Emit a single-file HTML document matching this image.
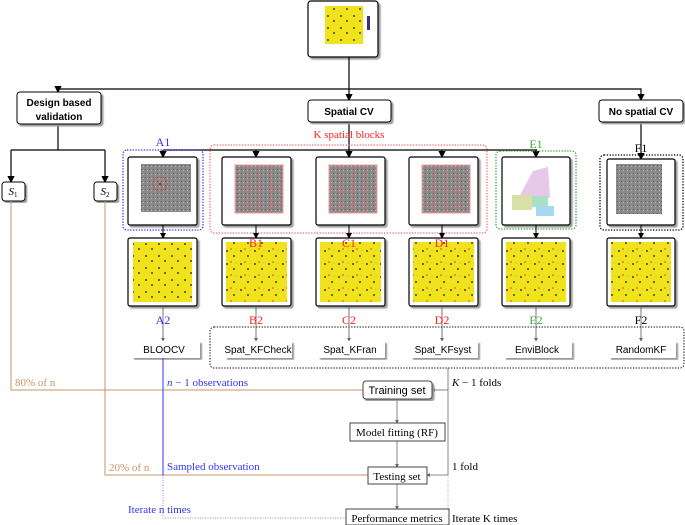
<!DOCTYPE html>
<html><head><meta charset="utf-8"><style>
html,body{margin:0;padding:0;background:#fff}
svg{display:block}
text{font-family:"Liberation Serif",serif}
.s{font-family:"Liberation Sans",sans-serif}
</style></head><body>
<svg width="685" height="525" viewBox="0 0 685 525" xmlns="http://www.w3.org/2000/svg">
<defs>
<marker id="ar" markerWidth="6" markerHeight="6" refX="5" refY="3" orient="auto"><path d="M0,0 L6,3 L0,6 z" fill="#000"/></marker>
<marker id="ag" markerWidth="5" markerHeight="5" refX="4" refY="2.5" orient="auto"><path d="M0,0 L5,2.5 L0,5 z" fill="#666"/></marker>
<pattern id="dots" width="14" height="13" patternUnits="userSpaceOnUse">
<rect width="14" height="13" fill="#f1e31b"/>
<circle cx="3" cy="4" r="0.9" fill="#111"/><circle cx="10" cy="9" r="0.9" fill="#111"/>
<circle cx="7" cy="2" r="0.8" fill="#e33"/><circle cx="12" cy="3" r="0.6" fill="#8c8"/>
</pattern>
<pattern id="dotsA" width="13" height="12" patternUnits="userSpaceOnUse">
<rect width="13" height="12" fill="#f1e31b"/>
<circle cx="3" cy="4" r="0.9" fill="#111"/><circle cx="9" cy="9" r="0.9" fill="#111"/>
</pattern>
<pattern id="gray" width="4" height="4" patternUnits="userSpaceOnUse">
<rect width="4" height="4" fill="#8a8a8a"/><rect x="1" y="1" width="1" height="1" fill="#555"/><rect x="3" y="2" width="1" height="1" fill="#bbb"/>
</pattern>
<filter id="sh"><feDropShadow dx="2" dy="2" stdDeviation="0.8" flood-color="#999"/></filter>
</defs>

<!-- top image -->
<rect x="308" y="1" width="70" height="56" rx="3" fill="#fff" stroke="#000" stroke-width="1.2" filter="url(#sh)"/>
<rect x="325" y="6" width="38" height="38" fill="url(#dotsA)"/>
<rect x="367" y="16" width="3" height="14" fill="#3b2f7a"/>

<!-- top tree -->
<g stroke="#000" stroke-width="1.2" fill="none">
<line x1="349" y1="57" x2="349" y2="100" marker-end="url(#ar)"/>
<polyline points="58,89 641,89 641,100" marker-end="url(#ar)"/>
<line x1="58" y1="89" x2="58" y2="92" marker-end="url(#ar)"/>
<line x1="58" y1="124" x2="58" y2="150"/>
<line x1="11" y1="150" x2="105" y2="150"/>
<line x1="11" y1="150" x2="11" y2="182" marker-end="url(#ar)"/>
<line x1="105" y1="150" x2="105" y2="182" marker-end="url(#ar)"/>
<line x1="349" y1="122" x2="349" y2="157" marker-end="url(#ar)"/>
<line x1="163" y1="150" x2="537" y2="150"/>
<line x1="163" y1="150" x2="163" y2="157" marker-end="url(#ar)"/>
<line x1="256" y1="150" x2="256" y2="157" marker-end="url(#ar)"/>
<line x1="442" y1="150" x2="442" y2="157" marker-end="url(#ar)"/>
<line x1="536" y1="150" x2="536" y2="157" marker-end="url(#ar)"/>
<line x1="641" y1="122" x2="641" y2="159" marker-end="url(#ar)"/>
</g>

<rect x="17" y="92" width="84" height="32" rx="3" fill="#fff" stroke="#000" filter="url(#sh)"/>
<text class="s" x="59" y="106" font-size="10" font-weight="bold" text-anchor="middle">Design based</text>
<text class="s" x="59" y="120" font-size="10" font-weight="bold" text-anchor="middle">validation</text>
<rect x="308" y="100" width="83" height="22" rx="3" fill="#fff" stroke="#000" filter="url(#sh)"/>
<text class="s" x="349" y="115" font-size="10" font-weight="bold" text-anchor="middle">Spatial CV</text>
<rect x="599" y="100" width="84" height="22" rx="3" fill="#fff" stroke="#000" filter="url(#sh)"/>
<text class="s" x="641" y="115" font-size="10" font-weight="bold" text-anchor="middle">No spatial CV</text>

<rect x="2" y="182" width="23" height="19" rx="3" fill="#fff" stroke="#000" filter="url(#sh)"/>
<text x="13" y="195" font-size="11" font-style="italic" text-anchor="middle">S<tspan font-size="7" dy="2" font-style="normal">1</tspan></text>
<rect x="94" y="182" width="23" height="19" rx="3" fill="#fff" stroke="#000" filter="url(#sh)"/>
<text x="105" y="195" font-size="11" font-style="italic" text-anchor="middle">S<tspan font-size="7" dy="2" font-style="normal">2</tspan></text>

<!-- dotted groups -->
<rect x="123" y="150" width="80" height="80" rx="4" fill="none" stroke="#33f" stroke-width="1.3" stroke-dasharray="1.3,1.5"/>
<rect x="210" y="145" width="277" height="88" rx="4" fill="none" stroke="#f44" stroke-width="1" stroke-dasharray="1.3,1.5"/>
<rect x="496" y="151" width="80" height="78" rx="4" fill="none" stroke="#3a3" stroke-width="1.3" stroke-dasharray="1.3,1.5"/>
<rect x="600" y="155" width="83" height="75" rx="4" fill="none" stroke="#000" stroke-width="1.3" stroke-dasharray="1.3,1.5"/>
<rect x="210" y="327" width="474" height="41" rx="4" fill="none" stroke="#000" stroke-width="1" stroke-dasharray="1.3,1.5"/>

<text x="163" y="146" font-size="12" fill="#33f" text-anchor="middle">A1</text>
<text x="349" y="138" font-size="11" fill="#f22" text-anchor="middle">K spatial blocks</text>
<text x="536" y="148" font-size="12" fill="#4a4" text-anchor="middle">E1</text>
<text x="641" y="152" font-size="12" text-anchor="middle">F1</text>

<!-- row1 images -->
<g>
<rect x="128" y="157" width="69" height="68" rx="2" fill="#fff" stroke="#000" stroke-width="1.2" filter="url(#sh)"/>
<rect x="141" y="164" width="50" height="48" fill="url(#gray)"/>
<circle cx="160" cy="184" r="7" fill="none" stroke="#c44" stroke-width="0.6"/><circle cx="160" cy="184" r="1.2" fill="#f00"/>
<rect x="222" y="157" width="69" height="68" rx="2" fill="#fff" stroke="#000" stroke-width="1.2" filter="url(#sh)"/>
<rect x="235" y="165" width="48" height="48" fill="url(#gray)" stroke="#f99"/>
<rect x="316" y="157" width="69" height="68" rx="2" fill="#fff" stroke="#000" stroke-width="1.2" filter="url(#sh)"/>
<rect x="329" y="165" width="48" height="48" fill="url(#gray)" stroke="#f99"/>
<rect x="409" y="157" width="69" height="68" rx="2" fill="#fff" stroke="#000" stroke-width="1.2" filter="url(#sh)"/>
<rect x="422" y="165" width="48" height="48" fill="url(#gray)" stroke="#f99"/>
<g stroke="#e66" stroke-width="0.6">
<path d="M235,189H283M235,205H283M247,165V213M259,165V213M271,165V213"/>
<path d="M329,189H377M329,205H377M341,165V213M353,165V213M365,165V213"/>
<path d="M422,189H470M422,205H470M434,165V213M446,165V213M458,165V213"/>
</g>
<rect x="502" y="157" width="68" height="68" rx="2" fill="#fff" stroke="#000" stroke-width="1.2" filter="url(#sh)"/>
<path d="M533,171 L548,167 L550,198 L520,195 Z" fill="#e8c8e8"/>
<rect x="512" y="195" width="20" height="15" fill="#d8e0a8"/><rect x="532" y="196" width="16" height="11" fill="#a8e0c8"/><rect x="536" y="206" width="18" height="10" fill="#a8d8f0"/>
<rect x="607" y="159" width="68" height="66" rx="2" fill="#fff" stroke="#000" stroke-width="1.2" filter="url(#sh)"/>
<rect x="616" y="164" width="46" height="50" fill="url(#gray)"/>
</g>
<g stroke="#000" stroke-width="1">
<line x1="163" y1="225" x2="163" y2="238" marker-end="url(#ar)"/>
<line x1="256" y1="225" x2="256" y2="238" marker-end="url(#ar)"/>
<line x1="349" y1="225" x2="349" y2="238" marker-end="url(#ar)"/>
<line x1="442" y1="225" x2="442" y2="238" marker-end="url(#ar)"/>
<line x1="536" y1="225" x2="536" y2="238" marker-end="url(#ar)"/>
<line x1="641" y1="225" x2="641" y2="238" marker-end="url(#ar)"/>
</g>
<!-- row2 images -->
<g>
<rect x="128" y="238" width="69" height="68" rx="2" fill="#fff" stroke="#000" stroke-width="1.2" filter="url(#sh)"/>
<rect x="133" y="242" width="59" height="60" fill="url(#dotsA)"/>
<rect x="222" y="238" width="69" height="68" rx="2" fill="#fff" stroke="#000" stroke-width="1.2" filter="url(#sh)"/>
<rect x="226" y="242" width="61" height="60" fill="url(#dots)"/>
<rect x="316" y="238" width="69" height="68" rx="2" fill="#fff" stroke="#000" stroke-width="1.2" filter="url(#sh)"/>
<rect x="320" y="242" width="61" height="60" fill="url(#dots)"/>
<rect x="409" y="238" width="69" height="68" rx="2" fill="#fff" stroke="#000" stroke-width="1.2" filter="url(#sh)"/>
<rect x="413" y="242" width="61" height="60" fill="url(#dots)"/>
<rect x="502" y="238" width="68" height="68" rx="2" fill="#fff" stroke="#000" stroke-width="1.2" filter="url(#sh)"/>
<rect x="506" y="242" width="60" height="60" fill="url(#dots)"/>
<rect x="607" y="238" width="68" height="68" rx="2" fill="#fff" stroke="#000" stroke-width="1.2" filter="url(#sh)"/>
<rect x="611" y="242" width="60" height="60" fill="url(#dots)"/>
</g>
<text x="256" y="247" font-size="12" fill="#f22" text-anchor="middle">B1</text>
<text x="349" y="247" font-size="12" fill="#f22" text-anchor="middle">C1</text>
<text x="442" y="247" font-size="12" fill="#f22" text-anchor="middle">D1</text>

<g stroke="#555" stroke-width="0.8">
<line x1="163" y1="306" x2="163" y2="341" marker-end="url(#ag)"/>
<line x1="256" y1="306" x2="256" y2="341" marker-end="url(#ag)"/>
<line x1="349" y1="306" x2="349" y2="341" marker-end="url(#ag)"/>
<line x1="442" y1="306" x2="442" y2="341" marker-end="url(#ag)"/>
<line x1="536" y1="306" x2="536" y2="341" marker-end="url(#ag)"/>
<line x1="641" y1="306" x2="641" y2="341" marker-end="url(#ag)"/>
</g>
<g font-size="12" text-anchor="middle">
<text x="163" y="324" fill="#33f">A2</text>
<text x="256" y="324" fill="#f22">B2</text>
<text x="349" y="324" fill="#f22">C2</text>
<text x="442" y="324" fill="#f22">D2</text>
<text x="536" y="324" fill="#4a4">E2</text>
<text x="641" y="324" fill="#000">F2</text>
</g>
<g class="s" font-size="10" text-anchor="middle">
<rect x="132" y="341" width="68" height="17" fill="#fff" filter="url(#sh)"/><text x="164" y="353" class="s">BLOOCV</text>
<rect x="225" y="341" width="67" height="17" fill="#fff" filter="url(#sh)"/><text x="258" y="353" class="s">Spat_KFCheck</text>
<rect x="318" y="341" width="67" height="17" fill="#fff" filter="url(#sh)"/><text x="350" y="353" class="s">Spat_KFran</text>
<rect x="411" y="341" width="67" height="17" fill="#fff" filter="url(#sh)"/><text x="443" y="353" class="s">Spat_KFsyst</text>
<rect x="504" y="341" width="68" height="17" fill="#fff" filter="url(#sh)"/><text x="537" y="353" class="s">EnviBlock</text>
<rect x="609" y="341" width="67" height="17" fill="#fff" filter="url(#sh)"/><text x="641" y="353" class="s">RandomKF</text>
</g>

<!-- bottom flow -->
<g fill="none">
<polyline points="11,201 11,390 363,390" stroke="#c8936a" stroke-width="1"/>
<polyline points="105,201 105,475 368,475" stroke="#c8936a" stroke-width="1"/>
<line x1="163" y1="358" x2="163" y2="475" stroke="#33f" stroke-width="1"/>
<polyline points="163,475 163,518 346,518" stroke="#66f" stroke-width="0.8" stroke-dasharray="1,1.5"/>
<polyline points="448,368 448,475" stroke="#666" stroke-width="0.8"/>
<line x1="448" y1="390" x2="432" y2="390" stroke="#666" stroke-width="0.8" marker-end="url(#ag)"/>
<line x1="448" y1="475" x2="427" y2="475" stroke="#666" stroke-width="0.8" marker-end="url(#ag)"/>
<line x1="448" y1="475" x2="448" y2="509" stroke="#999" stroke-width="0.8" stroke-dasharray="1,1.5"/>
<line x1="397" y1="398" x2="397" y2="423" stroke="#666" stroke-width="0.8" marker-end="url(#ag)"/>
<line x1="397" y1="441" x2="397" y2="467" stroke="#666" stroke-width="0.8" marker-end="url(#ag)"/>
<line x1="397" y1="484" x2="397" y2="509" stroke="#666" stroke-width="0.8" marker-end="url(#ag)"/>
</g>
<rect x="363" y="381" width="69" height="18" rx="3" fill="#fff" stroke="#444" filter="url(#sh)"/>
<text x="397" y="394" font-size="11" text-anchor="middle" class="s">Training set</text>
<rect x="350" y="423" width="95" height="18" fill="#fff" stroke="#444"/>
<text x="397" y="436" font-size="11" text-anchor="middle">Model fitting (RF)</text>
<rect x="368" y="467" width="59" height="17" fill="#fff" stroke="#444"/>
<text x="397" y="480" font-size="11" text-anchor="middle">Testing set</text>
<rect x="346" y="509" width="103" height="16" fill="#fff" stroke="#444"/>
<text x="397" y="522" font-size="11" text-anchor="middle">Performance metrics</text>

<text x="15" y="386" font-size="11" fill="#c8936a">80% of n</text>
<text x="109" y="471" font-size="11" fill="#c8936a">20% of n</text>
<text x="167" y="386" font-size="11" fill="#33f"><tspan font-style="italic">n</tspan> − 1 observations</text>
<text x="167" y="470" font-size="11" fill="#33f">Sampled observation</text>
<text x="128" y="513" font-size="11" fill="#33f">Iterate n times</text>
<text x="452" y="386" font-size="11"><tspan font-style="italic">K</tspan> − 1 folds</text>
<text x="452" y="470" font-size="11">1 fold</text>
<text x="452" y="522" font-size="11">Iterate K times</text>
</svg>
</body></html>
